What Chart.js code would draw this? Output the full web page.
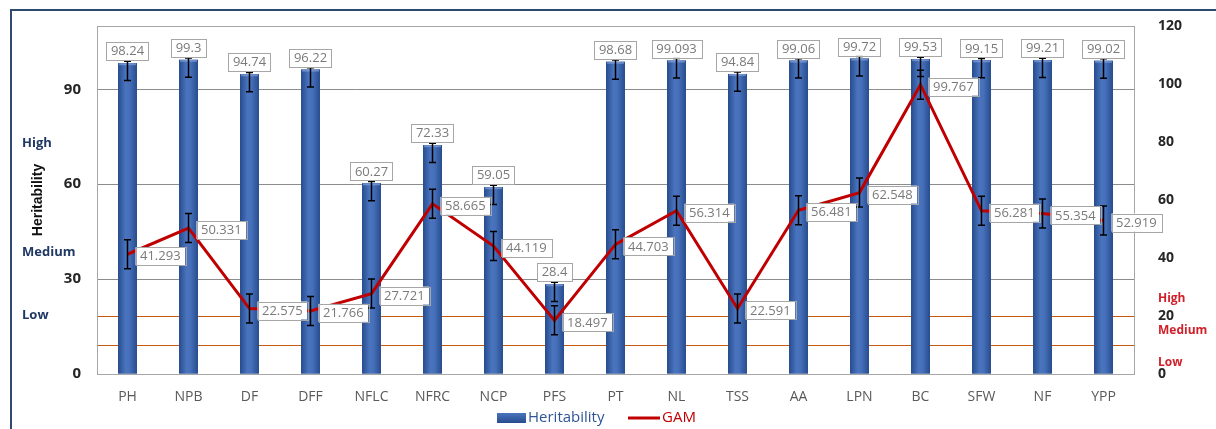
<!DOCTYPE html>
<html>
<head>
<meta charset="utf-8">
<script src="https://cdn.jsdelivr.net/npm/chart.js@4"></script>
<style>
  html, body { margin: 0; padding: 0; background: #fff; }
  #wrap { width: 1216px; height: 429px; }
</style>
</head>
<body>
<div id="wrap"><canvas id="c" width="1216" height="429"></canvas></div>
<script>
const traits = ["PH", "NPB", "DF", "DFF", "NFLC", "NFRC", "NCP", "PFS", "PT", "NL", "TSS", "AA", "LPN", "BC", "SFW", "NF", "YPP"];
const heritability = [98.24, 99.3, 94.74, 96.22, 60.27, 72.33, 59.05, 28.4, 98.68, 99.093, 94.84, 99.06, 99.72, 99.53, 99.15, 99.21, 99.02];
const gam = [41.293, 50.331, 22.575, 21.766, 27.721, 58.665, 44.119, 18.497, 44.703, 56.314, 22.591, 56.481, 62.548, 99.767, 56.281, 55.354, 52.919];
const herErrMinus = 5.5, herErrPlus = 0.6;
const gamErr = 5;
const leftTicks = [0, 30, 60, 90];
const gamThresholds = [20, 10];
const herBands = [["High", 73], ["Medium", 38.5], ["Low", 18.6]];
const gamBands = [["High", 26], ["Medium", 15], ["Low", 4]];

const BLUE = "#2F5597";
const RED = "#C00000";

function labelBox(ctx, text, x, y, align) {
  // align 'above': centred, box bottom at y; 'right': box left at x, centred on y
  ctx.font = "13px 'Open Sans', 'DejaVu Sans', sans-serif";
  const w = ctx.measureText(text).width + 9, h = 18;
  let bx, by;
  if (align === "above") { bx = x - w / 2; by = y - h; }
  else { bx = x; by = y - h / 2; }
  ctx.fillStyle = "#fff";
  ctx.fillRect(bx, by, w, h);
  ctx.strokeStyle = "#A6A6A6";
  ctx.lineWidth = 1;
  ctx.strokeRect(Math.round(bx) + 0.5, Math.round(by) + 0.5, Math.round(w), h);
  ctx.fillStyle = "#7a7a7a";
  ctx.textAlign = "center";
  ctx.textBaseline = "middle";
  ctx.fillText(text, bx + w / 2, by + h / 2 + 0.5);
}

function errBar(ctx, x, yTop, yBot) {
  ctx.strokeStyle = "#000";
  ctx.lineWidth = 1.5;
  ctx.beginPath();
  ctx.moveTo(x, yTop); ctx.lineTo(x, yBot);
  ctx.moveTo(x - 3.5, yTop); ctx.lineTo(x + 3.5, yTop);
  ctx.moveTo(x - 3.5, yBot); ctx.lineTo(x + 3.5, yBot);
  ctx.stroke();
}

const extras = {
  id: "extras",
  beforeDraw(chart) {
    const { ctx } = chart;
    ctx.save();
    // outer frame
    ctx.strokeStyle = "#2E4A6E";
    ctx.lineWidth = 2;
    ctx.beginPath();
    ctx.moveTo(11, 429); ctx.lineTo(11, 10); ctx.lineTo(1216, 10);
    ctx.stroke();
    ctx.restore();
  },
  beforeDatasetsDraw(chart) {
    const { ctx, chartArea: a, scales } = chart;
    ctx.save();
    // GAM threshold lines
    ctx.strokeStyle = "#C55A11";
    ctx.lineWidth = 1.2;
    gamThresholds.forEach(v => {
      const y = Math.round(scales.y1.getPixelForValue(v)) + 0.5;
      ctx.beginPath(); ctx.moveTo(a.left, y); ctx.lineTo(a.right, y); ctx.stroke();
    });
    // plot border
    ctx.strokeStyle = "#A6A6A6";
    ctx.lineWidth = 1;
    ctx.strokeRect(a.left + 0.5, a.top + 0.5, a.right - a.left, a.bottom - a.top);
    ctx.restore();
  },
  afterDatasetDraw(chart, args) {
    if (args.index !== 1) return;
    const { ctx } = chart;
    const bars = chart.getDatasetMeta(1).data;
    ctx.save();
    bars.forEach(b => {
      const x0 = b.x - b.width / 2;
      const g = ctx.createLinearGradient(x0, 0, x0 + b.width, 0);
      g.addColorStop(0, "#274C8E");
      g.addColorStop(0.4, "#4A74BE");
      g.addColorStop(0.6, "#4670BA");
      g.addColorStop(1, "#274C8E");
      ctx.fillStyle = g;
      ctx.fillRect(x0, b.y, b.width, b.base - b.y);
      ctx.fillStyle = "rgba(140,170,225,0.6)";
      ctx.fillRect(x0 + 1, b.y, b.width - 2, 2);
    });
    ctx.restore();
  },
  afterDatasetsDraw(chart) {
    const { ctx, scales } = chart;
    ctx.save();
    const bars = chart.getDatasetMeta(1).data;
    const pts = chart.getDatasetMeta(0).data;
    bars.forEach((b, i) => {
      const v = heritability[i];
      errBar(ctx, b.x, scales.y.getPixelForValue(v + herErrPlus), scales.y.getPixelForValue(v - herErrMinus));
    });
    pts.forEach((p, i) => {
      const v = gam[i];
      errBar(ctx, p.x, scales.y1.getPixelForValue(v + gamErr), scales.y1.getPixelForValue(v - gamErr));
    });
    bars.forEach((b, i) => labelBox(ctx, String(heritability[i]), b.x, b.y - 3, "above"));
    pts.forEach((p, i) => labelBox(ctx, String(gam[i]), p.x + 8, p.y + 2, "right"));

    // band labels
    ctx.textAlign = "left";
    ctx.textBaseline = "middle";
    ctx.font = "bold 13px 'Open Sans', 'DejaVu Sans', sans-serif";
    ctx.fillStyle = "#1F3864";
    herBands.forEach(([t, v]) => ctx.fillText(t, 22, scales.y.getPixelForValue(v)));
    ctx.font = "bold 12px 'Open Sans', 'DejaVu Sans', sans-serif";
    ctx.fillStyle = "#D0202A";
    gamBands.forEach(([t, v]) => ctx.fillText(t, 1158, scales.y1.getPixelForValue(v)));

    // axis title
    ctx.save();
    ctx.translate(38, scales.y.getPixelForValue(55));
    ctx.rotate(-Math.PI / 2);
    ctx.font = "bold 14px 'Liberation Sans Narrow', 'Liberation Sans', sans-serif";
    ctx.fillStyle = "#111";
    ctx.textAlign = "center";
    ctx.fillText("Heritability", 0, 0);
    ctx.restore();

    // legend
    const ly = 418;
    ctx.font = "15px 'Open Sans', 'DejaVu Sans', sans-serif";
    ctx.textAlign = "left";
    const g = ctx.createLinearGradient(0, ly - 5, 0, ly + 5);
    g.addColorStop(0, "#4A74BE"); g.addColorStop(1, "#274C8E");
    ctx.fillStyle = g;
    ctx.fillRect(497, ly - 5, 29, 10);
    ctx.fillStyle = BLUE;
    ctx.fillText("Heritability", 528, ly);
    ctx.strokeStyle = RED;
    ctx.lineWidth = 3;
    ctx.beginPath(); ctx.moveTo(628, ly); ctx.lineTo(660, ly); ctx.stroke();
    ctx.fillStyle = RED;
    ctx.fillText("GAM", 662, ly);
    ctx.restore();
  }
};

new Chart(document.getElementById("c"), {
  data: {
    labels: traits,
    datasets: [
      {
        type: "line",
        label: "GAM",
        data: gam,
        yAxisID: "y1",
        borderColor: RED,
        borderWidth: 3,
        pointRadius: 0,
        tension: 0,
        order: 0
      },
      {
        type: "bar",
        label: "Heritability",
        data: heritability,
        yAxisID: "y",
        backgroundColor: BLUE,
        barPercentage: 0.31,
        categoryPercentage: 1,
        order: 1
      }
    ]
  },
  options: {
    responsive: false,
    animation: false,
    layout: { padding: { left: 0, right: 0, top: 26, bottom: 0 } },
    plugins: { legend: { display: false }, tooltip: { enabled: false } },
    scales: {
      x: {
        grid: { display: false },
        border: { display: false },
        ticks: { color: "#595959", font: { size: 14, family: "'Open Sans', sans-serif" }, padding: 7 },
        afterFit: s => { s.height = 55; }
      },
      y: {
        position: "left",
        min: 0, max: 110,
        afterBuildTicks: s => { s.ticks = leftTicks.map(v => ({ value: v })); },
        grid: { color: "#8C8C8C", lineWidth: 1, drawTicks: false },
        border: { display: false },
        ticks: { color: "#262626", font: { size: 15, weight: "bold", family: "'Open Sans', sans-serif" }, padding: 16 },
        afterFit: s => { s.width = 97; }
      },
      y1: {
        position: "right",
        min: 0, max: 120,
        ticks: { stepSize: 20, color: "#262626", font: { size: 14, weight: "bold", family: "'Open Sans', sans-serif" }, padding: 16 },
        grid: { display: false },
        border: { display: false },
        afterFit: s => { s.width = 82; }
      }
    }
  },
  plugins: [extras]
});
</script>
</body>
</html>
